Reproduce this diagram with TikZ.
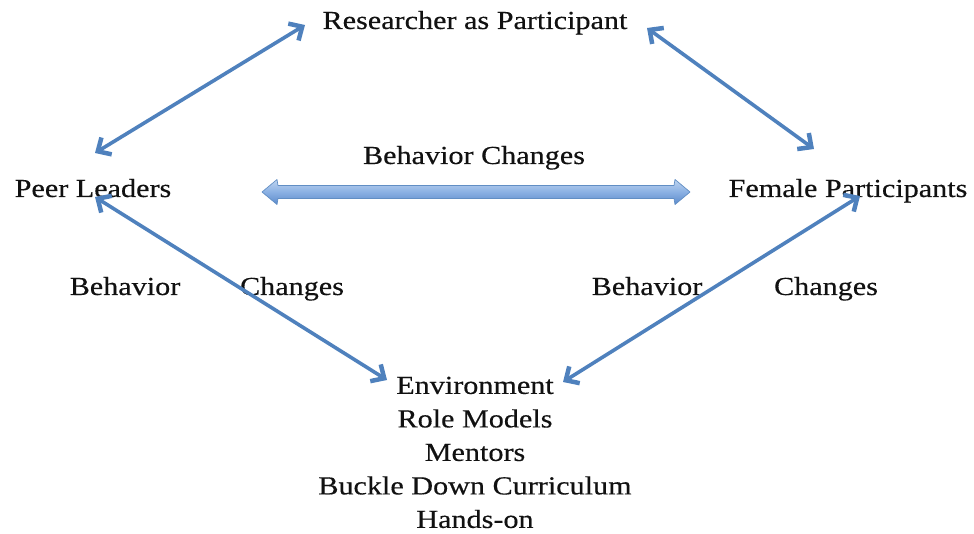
\documentclass[tikz,border=0pt]{standalone}
\usepackage{fontspec}
\setmainfont[FakeStretch=1.16,FakeBold=0.4]{Liberation Serif}
\usetikzlibrary{arrows.meta}
\definecolor{linkblue}{HTML}{4F81BD}
\definecolor{barlight}{HTML}{BED4F0}
\definecolor{barmid}{HTML}{8AB0E3}
\definecolor{bardark}{HTML}{5C8ACB}
\definecolor{textdark}{HTML}{111111}
\begin{document}
\begin{tikzpicture}[x=1pt,y=-1pt,
  lbl/.style={font=\fontsize{26}{33.5}\selectfont, text=textdark, inner sep=0pt, anchor=base},
  link/.style={draw=linkblue, line width=3.6pt,
    arrows={Straight Barb[length=6pt 1.2,width=14pt 1.6,line width=4.5pt]-Straight Barb[length=6pt 1.2,width=14pt 1.6,line width=4.5pt]}}]
\useasboundingbox (0,0) rectangle (974,534);

% labels
\node[lbl] (res)    at (475,29)  {Researcher as Participant};
\node[lbl] (peer)   at (93,197)  {Peer Leaders};
\node[lbl] (female) at (848,197) {Female Participants};
\node[lbl] (mid)    at (474,164) {Behavior Changes};
\node[lbl] (lb)     at (125,295) {Behavior};
\node[lbl] (lc)     at (292,295) {Changes};
\node[lbl] (rb)     at (647,295) {Behavior};
\node[lbl] (rc)     at (826,295) {Changes};
\node[lbl, anchor=north, align=center] (env) at (475,376.5)
  {Environment\\Role Models\\Mentors\\Buckle Down Curriculum\\Hands-on};

% arrow end points next to the labels
\coordinate (peer-n)  at (95,153);
\coordinate (peer-s)  at (95,197);
\coordinate (res-w)   at (305,25);
\coordinate (res-e)   at (647,28);
\coordinate (fem-n)   at (814,149);
\coordinate (fem-s)   at (860,196);
\coordinate (env-w)   at (387,380);
\coordinate (env-e)   at (563,382);

% thin two-headed connectors
\draw[link] (peer-n) -- (res-w);
\draw[link] (res-e) -- (fem-n);
\draw[link] (peer-s) -- (env-w);
\draw[link] (fem-s) -- (env-e);

% broad two-headed block arrow between the two groups
\coordinate (blk-l) at (262,192);
\coordinate (blk-r) at (690,192);
\shade[top color=barlight, bottom color=bardark, middle color=barmid,
       draw=linkblue!90, line width=0.7pt, line join=round]
  (blk-l) -- (277,179.5) -- (278,185.5) -- (674,185.5) -- (675,179.5)
  -- (blk-r) -- (675,204.5) -- (674,198.5) -- (278,198.5) -- (277,204.5) -- cycle;
\end{tikzpicture}
\end{document}
